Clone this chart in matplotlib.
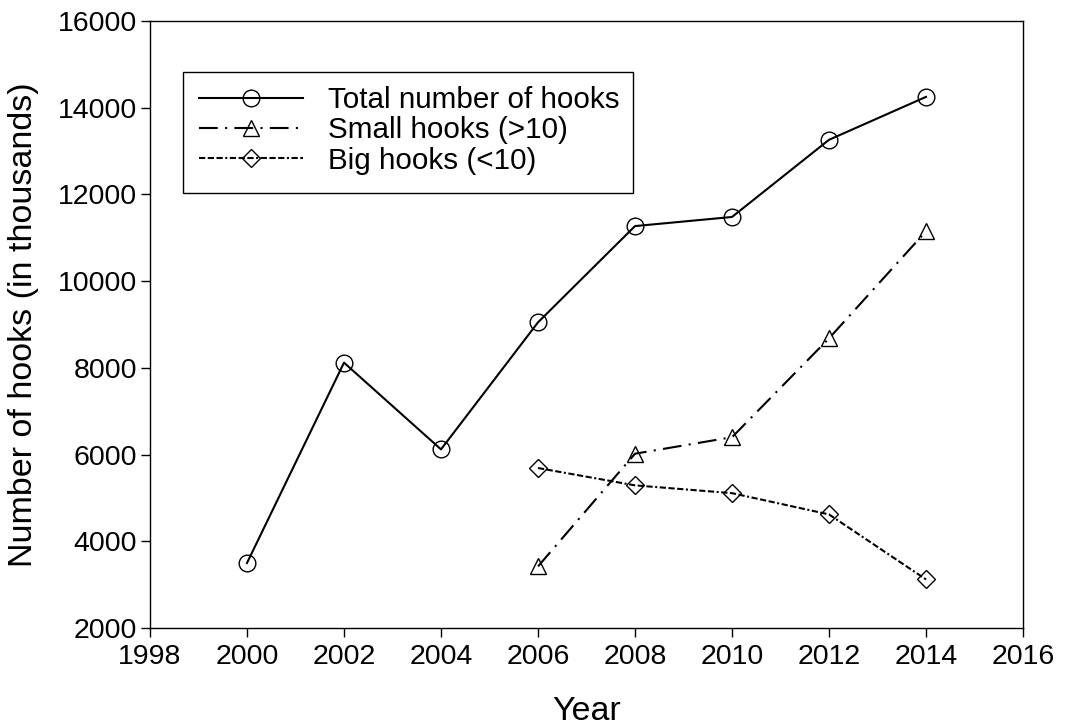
import numpy as np
import matplotlib
matplotlib.use("Agg")
import matplotlib.pyplot as plt
from matplotlib.patches import Rectangle

plt.rcParams['font.family'] = ['Liberation Sans', 'DejaVu Sans']

# valeurs (en milliers)
years_total = [2000, 2002, 2004, 2006, 2008, 2010, 2012, 2014]
total_hooks = [3500, 8120, 6120, 9050, 11270, 11480, 13260, 14250]

years_split = [2006, 2008, 2010, 2012, 2014]
small_hooks = [3420, 6020, 6400, 8680, 11150]
big_hooks = [5690, 5290, 5110, 4620, 3120]

xticks = list(range(1998, 2017, 2))
yticks = list(range(2000, 16001, 2000))

W, H = 1069, 727
fig = plt.figure(figsize=(W / 100, H / 100), dpi=100)
# axes: gauche 150px, droite 1023px, haut 21px, bas 628px
ax = fig.add_axes([150 / W, 1 - 628 / H, 873 / W, 607 / H])

ax.plot(years_total, total_hooks, color="black", lw=1.5, marker="o", ms=12,
        mfc="none", mec="black", mew=1.0, label="Total number of hooks")
ax.plot(years_split, small_hooks, color="black", lw=1.5, ls=(0, (9, 3.5, 1, 3.5)),
        marker="^", ms=11, mfc="none", mec="black", mew=1.0,
        label="Small hooks (>10)")
ax.plot(years_split, big_hooks, color="black", lw=1.5,
        ls=(0, (3, 1.2, 3, 1.2, 3, 1.2, 1, 1.2)),
        marker="D", ms=9.5, mfc="none", mec="black", mew=1.0,
        label="Big hooks (<10)")

ax.set_xlim(1998, 2016)
ax.set_ylim(2000, 16000)
ax.set_xticks(xticks)
ax.set_yticks(yticks)
ax.tick_params(axis="both", direction="out", length=6.5, width=1, labelsize=20.5,
               top=False, right=False)
ax.tick_params(axis="x", pad=5)
ax.tick_params(axis="y", pad=3)
for s in ax.spines.values():
    s.set_linewidth(1)

ax.set_xlabel("Year", fontsize=24.5, labelpad=19)
ax.set_ylabel("Number of hooks (in thousands)", fontsize=24.5, labelpad=13)

# cadre de la légende (plus haut que son contenu sur l'original)
ax.add_patch(Rectangle((0.0378, 0.7165), 0.515, 0.1995, transform=ax.transAxes,
                       fill=False, ec="black", lw=1, zorder=5))
leg = ax.legend(loc="upper left", bbox_to_anchor=(0.0561, 0.893),
                frameon=False, fontsize=21.3, handlelength=3.5,
                handletextpad=0.85, labelspacing=0.08, borderpad=0,
                borderaxespad=0, numpoints=1)

fig.savefig("out.png", dpi=100)
